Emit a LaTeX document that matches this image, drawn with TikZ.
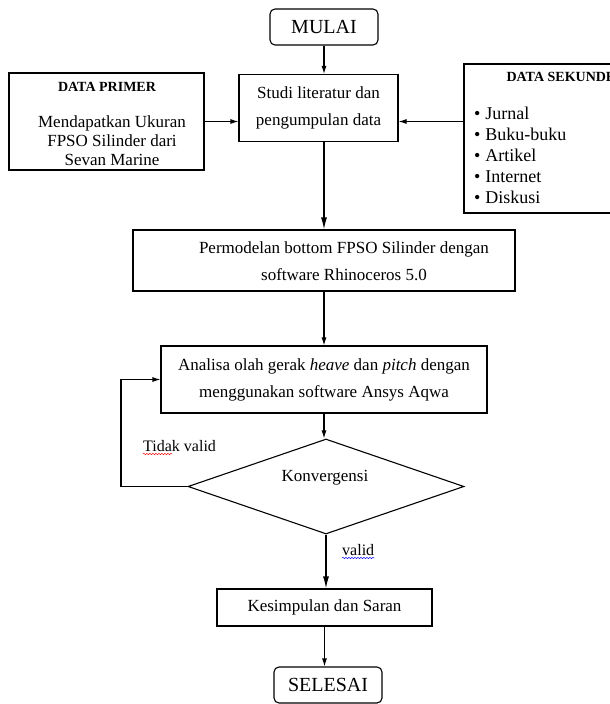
\documentclass[tikz,border=0pt]{standalone}
\usepackage{fontspec}
\setmainfont{Liberation Serif}
\usetikzlibrary{arrows.meta,shapes.geometric,decorations.pathmorphing}
\begin{document}
\begin{tikzpicture}[x=1pt,y=-1pt,
  box/.style={draw, line width=1.1pt, inner sep=0pt, align=center},
  bodyfont/.style={font=\fontsize{17}{27}\selectfont},
  term/.style={box, rounded corners=5pt, font=\fontsize{20}{24}\selectfont},
  arr/.style={line width=1.1pt, -{Latex[length=8pt,width=5pt]}},
  bigarr/.style={line width=1.3pt, -{Latex[length=12pt,width=6pt]}},
  lbl/.style={inner sep=0pt, font=\fontsize{16}{18}\selectfont},
  wavy/.style={line width=0.5pt, decorate, decoration={snake, amplitude=0.6pt, segment length=3pt}},
]
\useasboundingbox (0,0) rectangle (610,704);
\clip (0,0) rectangle (610,704);

% terminals
\node[term, minimum width=108pt, minimum height=36pt] (mulai) at (324,27) {MULAI};
\node[term, minimum width=108pt, minimum height=36pt] (selesai) at (328,685) {SELESAI};

% studi literatur
\node[box, bodyfont, minimum width=159pt, minimum height=67pt] (studi) at (318.5,108) {Studi literatur dan\\pengumpulan data};

% data primer
\node[box, minimum width=195pt, minimum height=97pt] (primer) at (106.5,121.5) {};
\node[inner sep=0pt, font=\bfseries\fontsize{14}{16}\selectfont] (primertitle) at (107,87) {DATA PRIMER};
\node[inner sep=0pt, align=center, font=\fontsize{17}{19}\selectfont] (primerbody) at (112,141) {Mendapatkan Ukuran\\FPSO Silinder dari\\Sevan Marine};

% data sekunder
\node[box, minimum width=204pt, minimum height=149pt] (sekunder) at (566,138.5) {};
\node[inner sep=0pt, font=\bfseries\fontsize{14}{16}\selectfont] (sektitle) at (566,77) {DATA SEKUNDER};
\node[inner sep=0pt, anchor=west, align=left, font=\fontsize{18}{21}\selectfont] (seklist) at (474,155)
  {\textbullet\hspace{5pt}Jurnal\\\textbullet\hspace{5pt}Buku-buku\\\textbullet\hspace{5pt}Artikel\\\textbullet\hspace{5pt}Internet\\\textbullet\hspace{5pt}Diskusi};

% permodelan
\node[box, minimum width=382pt, minimum height=61pt] (perm) at (324,260.5) {};
\node[inner sep=0pt, align=center, bodyfont] (permtext) at (344,261) {Permodelan bottom FPSO Silinder dengan\\software Rhinoceros 5.0};

% analisa
\node[box, bodyfont, minimum width=326pt, minimum height=67pt] (analisa) at (324,379.5)
  {Analisa olah gerak \textit{heave} dan \textit{pitch} dengan\\menggunakan software Ansys Aqwa};

% konvergensi
\node[draw, line width=1.1pt, shape=diamond, inner sep=0pt, minimum width=276pt, minimum height=95pt] (konv) at (326,486.5) {};
\node[inner sep=0pt, bodyfont] (konvtext) at (325,478) {Konvergensi};

% kesimpulan
\node[box, bodyfont, minimum width=215pt, minimum height=37pt] (kes) at (324.5,607.5) {Kesimpulan dan Saran};

% connectors
\draw[arr] (mulai.south) -- (mulai.south |- studi.north);
\draw[arr] (primer.east) -- (primer.east -| studi.west);
\draw[arr] (sekunder.west |- primer.east) -- (studi.east |- primer.east);
\draw[bigarr] (perm.north |- studi.south) -- (perm.north);
\draw[arr] (perm.south) -- (analisa.north);
\draw[arr] (analisa.south) -- (analisa.south |- konv.north);
\coordinate (loopc) at (121,486.5);
\draw[arr] (konv.west) -- (loopc) |- (analisa.west);
\draw[bigarr] (konv.south) -- (konv.south |- kes.north);
\draw[arr] (kes.south) -- (kes.south |- selesai.north);

% labels
\node[lbl, anchor=base west] (tidak) at (143,451) {Tidak valid};
\node[lbl, anchor=base west] (valid) at (342,555) {valid};
\draw[wavy, red] ([yshift=-3pt]tidak.base west) -- ++(29,0);
\draw[wavy, blue] ([yshift=-3pt]valid.base west) -- ([yshift=-3pt]valid.base east);
\end{tikzpicture}
\end{document}
